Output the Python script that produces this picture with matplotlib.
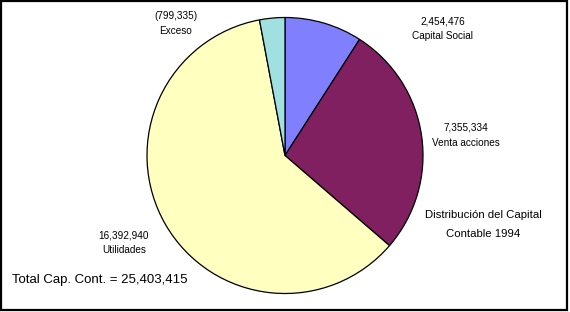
import matplotlib
matplotlib.use("Agg")
import matplotlib.pyplot as plt
from matplotlib.patches import Rectangle

# data (clockwise from the top)
labels = ["Capital Social", "Venta acciones", "Utilidades", "Exceso"]
values = [2454476, 7355334, 16392940, -799335]
colors = ["#8080ff", "#802060", "#ffffc0", "#a0e0e0"]
total = sum(values)

def fmt(v):
    s = "{:,}".format(abs(v))
    return "(" + s + ")" if v < 0 else s

plt.rcParams['font.family'] = ['Liberation Sans', 'DejaVu Sans']

W, H = 570, 312
fig = plt.figure(figsize=(W / 100, H / 100), dpi=100)
ax = fig.add_axes([0, 0, 1, 1])

# outer frame
ax.add_patch(Rectangle((1, 2), 566, 309, fill=False, edgecolor='black', linewidth=1.6))

ax.pie([abs(v) for v in values], colors=colors, startangle=90, counterclock=False,
       center=(285, H - 155.5), radius=138, frame=True,
       wedgeprops=dict(edgecolor='black', linewidth=0.9))
ax.set_xlim(0, W)
ax.set_ylim(0, H)
ax.set_aspect('equal')
ax.axis('off')

# slice labels (value over name)
label_pos = [(443, 21), (466, 128), (124, 235), (176, 16)]
for (x, y), name, v in zip(label_pos, labels, values):
    ax.text(x, H - y, fmt(v), ha='center', va='center', fontsize=7.2)
    ax.text(x, H - y - 15, name, ha='center', va='center', fontsize=7.2)

ax.text(483, H - 215, "Distribución del Capital", ha='center', va='center', fontsize=8.2)
ax.text(483, H - 234, "Contable 1994", ha='center', va='center', fontsize=8.2)
ax.text(12, H - 280, "Total Cap. Cont. = " + fmt(total), ha='left', va='center', fontsize=9.5)

fig.savefig("out.png", dpi=100, facecolor='white')
